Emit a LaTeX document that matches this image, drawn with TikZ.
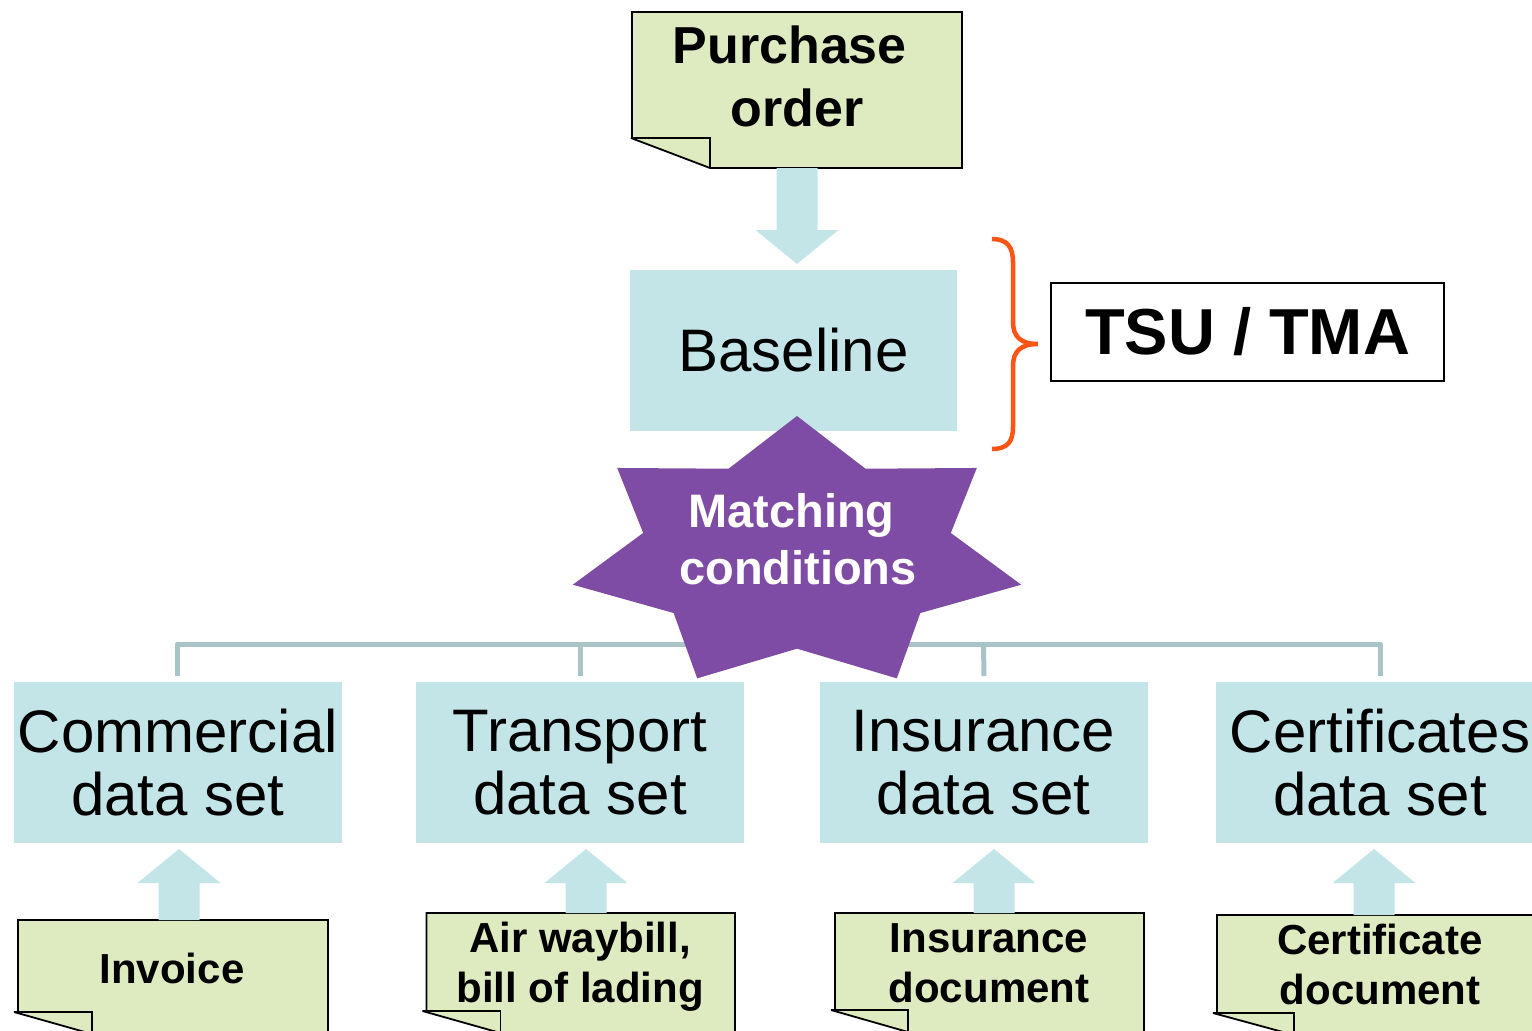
\documentclass[tikz,border=0pt]{standalone}
\usepackage{fontspec}
\setmainfont{Liberation Sans}
\usetikzlibrary{calc}
\definecolor{boxblue}{RGB}{195,229,232}
\definecolor{docgreen}{RGB}{222,235,193}
\definecolor{starpurple}{RGB}{126,76,165}
\definecolor{treegray}{RGB}{168,196,199}
\definecolor{braceorange}{RGB}{255,85,20}
\tikzset{
  databox/.style={fill=boxblue, minimum width=328pt, minimum height=161pt, inner sep=0pt, outer sep=0pt, align=center, font=\fontsize{60}{63}\selectfont},
  docbox/.style={inner sep=0pt, outer sep=0pt},
  doctext/.style={inner sep=0pt, outer sep=0pt, align=center, font=\bfseries\fontsize{42}{50}\selectfont},
  docfill/.style={fill=docgreen, draw=black, line width=1.8pt, line join=miter, miter limit=3},
  docline/.style={draw=black, line width=1.8pt},
  arrowfill/.style={fill=boxblue},
  treeline/.style={draw=treegray, line width=5pt, line join=round},
  tsubox/.style={draw=black, line width=2pt, minimum width=393pt, minimum height=98pt, inner sep=0pt, outer sep=0pt, font=\bfseries\fontsize{65}{70}\selectfont},
  startext/.style={inner sep=0pt, outer sep=0pt, align=center, text=white, font=\bfseries\fontsize{47}{57}\selectfont},
  potext/.style={inner sep=0pt, outer sep=0pt, align=center, font=\bfseries\fontsize{52}{63}\selectfont},
  bracestyle/.style={draw=braceorange, line width=4.5pt},
}
\newcommand\blockarrow[2]{%
  \coordinate (ba-s) at (#1);
  \coordinate (ba-t) at (#2);
  \coordinate (ba-h) at ($(ba-t)!34pt!(ba-s)$);
  \fill[arrowfill] ($(ba-s)!20.5pt!90:(ba-t)$) -- ($(ba-h)!20.5pt!90:(ba-t)$) -- ($(ba-h)!41.5pt!90:(ba-t)$) -- (ba-t) -- ($(ba-h)!41.5pt!-90:(ba-t)$) -- ($(ba-h)!20.5pt!-90:(ba-t)$) -- ($(ba-s)!20.5pt!-90:(ba-t)$) -- cycle;}
\newcommand\docoutline[4]{%
  \coordinate (#1-ft) at ($(#1.south west)+(0,-#2)$);
  \coordinate (#1-fl) at ($(#1-ft)+(-#4,0)$);
  \coordinate (#1-fr) at ($(#1-ft)+(#3,0)$);
  \coordinate (#1-fb) at ($(#1.south west)+(#3,0)$);
  \path[docfill] (#1.north west) -- (#1.north east) -- (#1.south east) -- (#1-fb) -- (#1-fl) -- (#1-ft) -- cycle;
  \draw[docline] (#1-fl) -- (#1-fr) -- (#1-fb);}
\begin{document}
\begin{tikzpicture}[x=1pt,y=-1pt]
\useasboundingbox (0,0) rectangle (1532,1031);
\clip (0,0) rectangle (1532,1031);
\fill[white] (0,0) rectangle (1532,1031);

% purchase order
\node[docbox, minimum width=330pt, minimum height=156pt] (po) at (797,90) {};
\docoutline{po}{30}{78}{1}
\node[potext] (pot) at (797,76.8) {Purchase\kern14.5pt\\order};

% baseline box
\node[databox, minimum width=327pt] (base) at (793.5,350.5) {Baseline};

% arrow purchase order -> baseline
\coordinate (potip) at ($(base.north)+(3.5,-6)$);
\blockarrow{po.south -| potip}{potip}

% TSU / TMA
\node[tsubox] (tsu) at (1247.5,332) {TSU / TMA};
\draw[bracestyle] (992,239) .. controls (1008,239) and (1013,248) .. (1013,262) -- (1013,322) .. controls (1013,336) and (1020,344) .. (1038,344) .. controls (1020,344) and (1013,352) .. (1013,366) -- (1013,427) .. controls (1013,441) and (1008,449) .. (992,449);

% data set boxes
\node[databox] (cds) at (178,762.5) {Commercial\\data set};
\node[databox] (tds) at (580,762.5) {Transport\\data set};
\node[databox] (ids) at (983.5,762.5) {Insurance\\data set};
\node[databox] (cfs) at (1380,762.5) {Certificates\\data set};

% tree lines
\coordinate (bus) at (797,644);
\draw[treeline] ($(cds.north)+(-1,-6)$) |- (bus) -| ($(cfs.north)+(0,-6)$);
\draw[treeline] ($(tds.north)+(0,-6)$) -- (tds.north |- bus);
\draw[treeline] ($(ids.north)+(0.5,-6)$) -- (ids.north |- bus);

% star
\fill[starpurple] plot[samples at={0,...,13}] ({797+230*(mod(\x,2)==0?1:0.686)*cos(90+\x*360/14)}, {554-138*(mod(\x,2)==0?1:0.686)*sin(90+\x*360/14)}) -- cycle;
\node[startext] (mc) at (798,539.3) {Matching\kern13pt\\conditions};

% documents
\node[docbox, minimum width=310pt, minimum height=114pt] (inv) at (173,977) {};
\docoutline{inv}{22}{74}{4}
\node[doctext] (invt) at (172,968) {Invoice};

\node[docbox, minimum width=308.5pt, minimum height=120pt] (awb) at (580.75,973) {};
\docoutline{awb}{22}{74}{4}
\node[doctext] (awbt) at (580,967.1) {Air waybill,\\bill of lading};

\node[docbox, minimum width=309pt, minimum height=119pt] (insd) at (989.5,972.5) {};
\docoutline{insd}{22}{73}{4}
\node[doctext] (insdt) at (989,963) {Insurance\\document};

\node[docbox, minimum width=326pt, minimum height=120pt] (cert) at (1380,975) {};
\docoutline{cert}{22}{77}{4}
\node[doctext] (certt) at (1380,964.7) {Certificate\\document};

% arrows documents -> data sets
\coordinate (t1) at ($(cds.south)+(1,6)$);
\coordinate (t2) at ($(tds.south)+(6,6)$);
\coordinate (t3) at ($(ids.south)+(10.5,6)$);
\coordinate (t4) at ($(cfs.south)+(-6,6)$);
\blockarrow{t1 |- inv.north}{t1}
\blockarrow{t2 |- awb.north}{t2}
\blockarrow{t3 |- insd.north}{t3}
\blockarrow{t4 |- cert.north}{t4}
\end{tikzpicture}
\end{document}
